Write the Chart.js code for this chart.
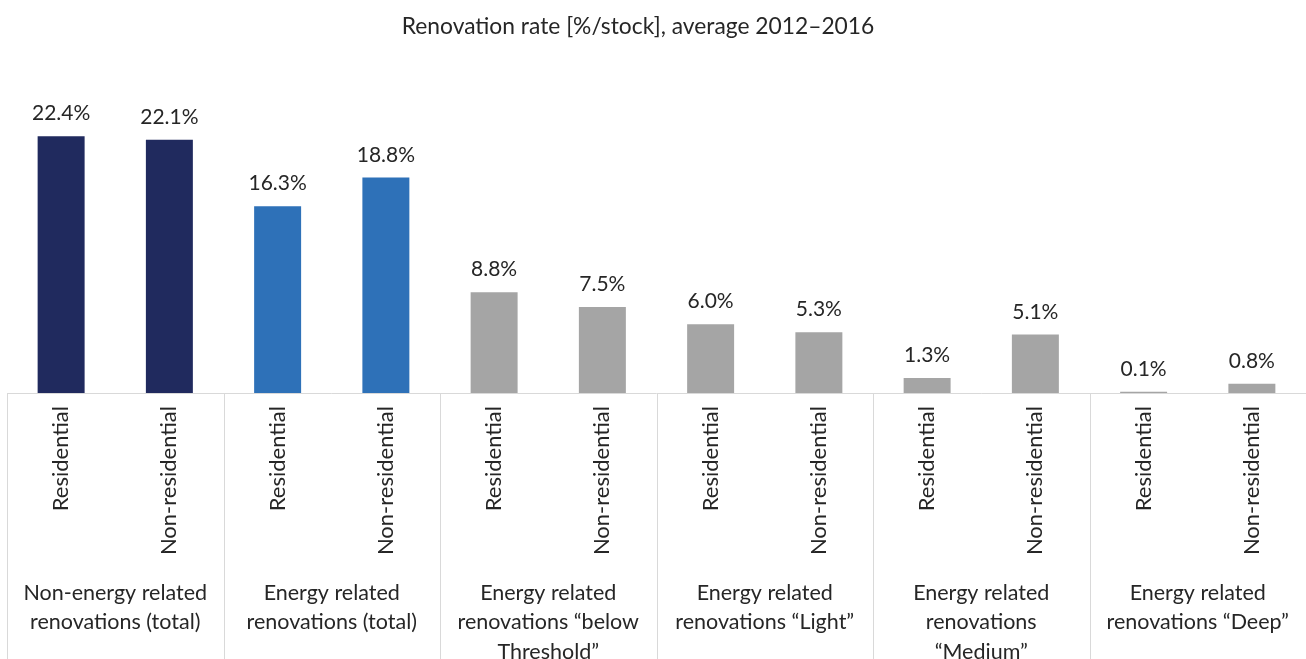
<!DOCTYPE html>
<html>
<head>
<meta charset="utf-8">
<script src="https://cdn.jsdelivr.net/npm/chart.js@4/dist/chart.umd.min.js"></script>
<style>
  html, body { margin: 0; padding: 0; background: #ffffff; }
  #wrap { width: 1306px; height: 659px; position: relative; }
</style>
</head>
<body>
<div id="wrap"><canvas id="c"></canvas></div>
<script>
const titleText = "Renovation rate [%/stock], average 2012–2016";
const categories = ["Residential","Non-residential","Residential","Non-residential","Residential","Non-residential","Residential","Non-residential","Residential","Non-residential","Residential","Non-residential"];
const groupLabels = [
  ["Non-energy related","renovations (total)"],
  ["Energy related","renovations (total)"],
  ["Energy related","renovations “below","Threshold”"],
  ["Energy related","renovations “Light”"],
  ["Energy related","renovations","“Medium”"],
  ["Energy related","renovations “Deep”"]
];
const values = [22.4, 22.1, 16.3, 18.8, 8.8, 7.5, 6.0, 5.3, 1.3, 5.1, 0.1, 0.8];
const groupOfBar = [0,0,1,1,2,2,2,2,2,2,2,2];
const palette = ["#202A5E", "#2E71B8", "#A5A5A5"];

const FONT = "Lato";
const TXT = "#262626";
const LINE = "#D9D9D9";
Chart.defaults.font.family = FONT;
Chart.defaults.color = TXT;

const decor = {
  id: 'decor',
  afterDraw(chart) {
    const ctx = chart.ctx;
    const area = chart.chartArea;
    const x = chart.scales.x;
    const step = (x.getPixelForValue(1) - x.getPixelForValue(0));
    ctx.save();
    ctx.strokeStyle = LINE;
    ctx.lineWidth = 1;
    ctx.beginPath();
    ctx.moveTo(area.left, Math.round(area.bottom) + 0.5);
    ctx.lineTo(area.right, Math.round(area.bottom) + 0.5);
    for (let g = 0; g <= groupLabels.length; g++) {
      const px = Math.round(x.getPixelForValue(g * 2) - step / 2) + 0.5;
      ctx.moveTo(px, area.bottom);
      ctx.lineTo(px, chart.height);
    }
    ctx.stroke();
    // chart title (centred slightly left of the plot centre as in the source)
    ctx.font = "22.8px " + FONT;
    ctx.fillStyle = TXT;
    ctx.textAlign = 'center';
    ctx.textBaseline = 'middle';
    ctx.fillText(titleText, 638, 27);
    ctx.restore();
  },
  afterDatasetsDraw(chart) {
    const ctx = chart.ctx;
    const meta = chart.getDatasetMeta(0);
    ctx.save();
    ctx.font = "21px " + FONT;
    ctx.fillStyle = TXT;
    ctx.textAlign = 'center';
    ctx.textBaseline = 'alphabetic';
    meta.data.forEach((el, i) => {
      ctx.fillText(values[i].toFixed(1) + '%', el.x, el.y - 16);
    });
    ctx.restore();
  }
};

new Chart(document.getElementById('c'), {
  type: 'bar',
  data: {
    labels: categories,
    datasets: [{
      data: values,
      backgroundColor: values.map((v, i) => palette[groupOfBar[i]]),
      categoryPercentage: 1,
      barPercentage: 0.434
    }]
  },
  options: {
    responsive: true,
    maintainAspectRatio: false,
    animation: false,
    layout: { padding: { left: 7, right: 0, top: 95, bottom: 0 } },
    plugins: {
      legend: { display: false },
      tooltip: { enabled: false },
      title: { display: false }
    },
    scales: {
      y: { display: false, min: 0, max: 26 },
      x: {
        position: 'bottom',
        grid: { display: false },
        border: { display: false },
        ticks: {
          autoSkip: false,
          minRotation: 90,
          maxRotation: 90,
          padding: 5,
          font: { size: 22 },
          color: TXT
        },
        afterFit: s => { s.height = 178; }
      },
      x2: {
        type: 'category',
        labels: groupLabels,
        position: 'bottom',
        offset: true,
        grid: { display: false },
        border: { display: false },
        ticks: {
          autoSkip: false,
          minRotation: 0,
          maxRotation: 0,
          padding: 0,
          font: { size: 21.5, lineHeight: 1.35 },
          color: TXT
        },
        afterFit: s => { s.height = 88; }
      }
    }
  },
  plugins: [decor]
});
</script>
</body>
</html>
